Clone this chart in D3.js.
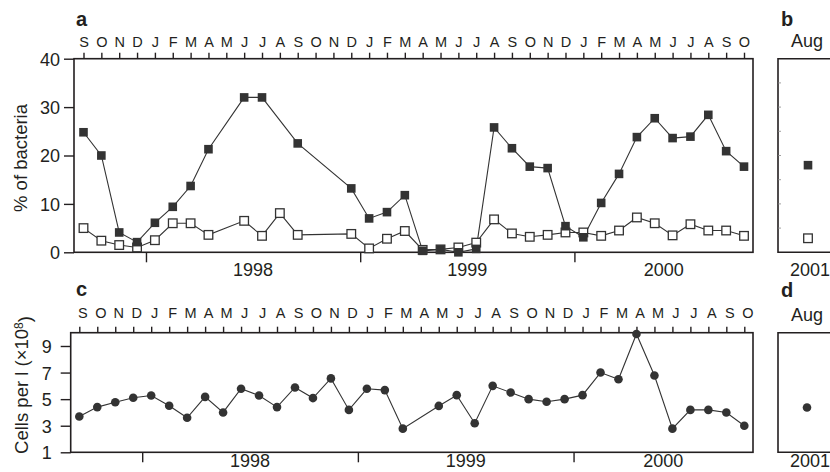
<!DOCTYPE html>
<meta charset="utf-8">
<head>
    <title>Bacteria time series</title>
    <script src="https://cdn.jsdelivr.net/npm/d3@7"></script>
</head>

<style>
    body { margin: 0; background: #fff; }
    svg { font-family: "Liberation Sans", Arial, sans-serif; }
    text { fill: #231f20; }
    .frame { fill: none; stroke: #231f20; stroke-width: 1.6; }
    .axis path { display: none; }
    .axis line { stroke: #231f20; stroke-width: 1.4; }
    .series { fill: none; stroke: #333; stroke-width: 1.1; }
</style>

<svg></svg>

<script>
    // Monthly samples, Sep 1997 .. Oct 2000 (null = no sample)
    var months = ["S","O","N","D","J","F","M","A","M","J","J","A",
                  "S","O","N","D","J","F","M","A","M","J","J","A",
                  "S","O","N","D","J","F","M","A","M","J","J","A","S","O"];
    var years = ["1998", "1999", "2000"];
    var yTicksA = [0, 10, 20, 30, 40];
    var yTicksC = [1, 3, 5, 7, 9];

    var filledPct = [24.8, 20.0, 4.1, 2.1, 6.1, 9.4, 13.7, 21.3, null, 32.0, 32.0, null,
                     22.5, null, null, 13.2, 7.0, 8.3, 11.8, 0.3, 0.6, 0.0, 0.7, 25.8,
                     21.5, 17.7, 17.4, 5.4, 3.1, 10.2, 16.2, 23.8, 27.7, 23.6, 23.9, 28.4, 20.9, 17.7];
    var openPct = [5.0, 2.4, 1.5, 1.0, 2.5, 6.0, 6.0, 3.6, null, 6.5, 3.4, 8.1,
                   3.6, null, null, 3.8, 0.8, 2.8, 4.4, 0.5, 0.6, 1.0, 2.0, 6.8,
                   3.9, 3.2, 3.6, 4.1, 4.1, 3.4, 4.5, 7.2, 6.0, 3.5, 5.8, 4.5, 4.5, 3.4];
    var cells = [3.69, 4.40, 4.77, 5.10, 5.27, 4.5, 3.6, 5.17, 4.0, 5.78, 5.27, 4.4,
                 5.88, 5.08, 6.56, 4.19, 5.78, 5.68, 2.78, null, 4.49, 5.30, 3.19, 6.0,
                 5.5, 5.0, 4.8, 5.0, 5.3, 7.0, 6.5, 9.9, 6.78, 2.78, 4.19, 4.19, 4.0, 3.0];

    // Aug 2001 samples (panels b and d)
    var aug2001Filled = [18.0];
    var aug2001Open = [2.9];
    var aug2001Cells = [4.37];

    var svg = d3.select('svg').attr('width', 830).attr('height', 472);

    function pts(arr) {
        return arr.map(function (v, i) { return {i: i, v: v}; })
                  .filter(function (d) { return d.v != null; });
    }

    // ---------- panel a ----------
    var xA = d3.scaleLinear().domain([0, 37]).range([83.5, 744]);
    var yA = d3.scaleLinear().domain([0, 40]).range([252.3, 58.7]);
    var boxA = {l: 74, r: 753, t: yA(40), b: yA(0)};

    // ---------- panel c ----------
    var xC = d3.scaleLinear().domain([0, 37]).range([79.3, 744.3]);
    var yC = d3.scaleLinear().domain([1, 10]).range([452.3, 332.7]);
    var boxC = {l: 70.7, r: 753, t: yC(10), b: yC(1)};

    function frame(box, x, yScale, yTicks, tickPad, monthPad) {
        svg.append('rect').attr('class', 'frame')
            .attr('x', box.l).attr('y', box.t)
            .attr('width', box.r - box.l).attr('height', box.b - box.t);

        // left value axis
        svg.append('g').attr('class', 'axis')
            .attr('transform', 'translate(' + box.l + ',0)')
            .call(d3.axisLeft(yScale).tickValues(yTicks).tickSize(10).tickPadding(tickPad))
            .selectAll('text').style('font-size', '18px').attr('dy', '0.36em');

        // month axis on top
        var top = svg.append('g').attr('class', 'axis')
            .attr('transform', 'translate(0,' + box.t + ')')
            .call(d3.axisTop(x).tickValues(d3.range(months.length))
                .tickFormat(function (i) { return months[i]; })
                .tickSize(6).tickPadding(monthPad));
        top.selectAll('text').style('font-size', '14.5px');
        return top;
    }

    function yearAxis(box, x, yearOff) {
        svg.append('g').attr('class', 'axis')
            .attr('transform', 'translate(0,' + box.b + ')')
            .call(d3.axisBottom(x).tickValues([3.5, 15.5, 27.5]).tickFormat('').tickSize(10));
        var endIdx = x.invert(box.r);
        var centers = [9.5, 21.5, (27.5 + endIdx) / 2];
        svg.selectAll(null).data(years).enter().append('text')
            .attr('x', function (d, i) { return x(centers[i]); })
            .attr('y', box.b + yearOff)
            .attr('text-anchor', 'middle')
            .style('font-size', '18px')
            .text(function (d) { return d; });
    }

    frame(boxA, xA, yA, yTicksA, 4, 6);
    yearAxis(boxA, xA, 23.5);
    var topC = frame(boxC, xC, yC, yTicksC, 9, 9);
    topC.selectAll('text').attr('dx', 3);
    yearAxis(boxC, xC, 14.5);

    // series a
    var lineA = d3.line().x(function (d) { return xA(d.i); }).y(function (d) { return yA(d.v); });
    svg.append('path').attr('class', 'series').attr('d', lineA(pts(openPct)));
    svg.append('path').attr('class', 'series').attr('d', lineA(pts(filledPct)));

    var s = 8.6;
    svg.selectAll(null).data(pts(openPct)).enter().append('rect')
        .attr('x', function (d) { return xA(d.i) - s / 2; })
        .attr('y', function (d) { return yA(d.v) - s / 2; })
        .attr('width', s).attr('height', s)
        .attr('fill', '#fff').attr('stroke', '#333').attr('stroke-width', 1.3);
    svg.selectAll(null).data(pts(filledPct)).enter().append('rect')
        .attr('x', function (d) { return xA(d.i) - s / 2; })
        .attr('y', function (d) { return yA(d.v) - s / 2; })
        .attr('width', s).attr('height', s)
        .attr('fill', '#333');

    // series c
    var lineC = d3.line().x(function (d) { return xC(d.i); }).y(function (d) { return yC(d.v); });
    svg.append('path').attr('class', 'series').attr('d', lineC(pts(cells)));
    svg.selectAll(null).data(pts(cells)).enter().append('circle')
        .attr('cx', function (d) { return xC(d.i); })
        .attr('cy', function (d) { return yC(d.v); })
        .attr('r', 4.3).attr('fill', '#333');

    // ---------- panels b and d ----------
    var xB = d3.scaleLinear().domain([0, 1]).range([778, 838]);

    function sidePanel(top, bottom, yearOff, withTicks, yScale) {
        svg.append('path').attr('class', 'frame')
            .attr('d', 'M' + 835 + ',' + top + 'H' + 778 + 'V' + bottom + 'H' + 835);
        if (withTicks) {
            svg.selectAll(null).data(d3.range(5, 40, 5)).enter().append('line')
                .attr('x1', 778).attr('x2', 781)
                .attr('y1', function (d) { return yScale(d); })
                .attr('y2', function (d) { return yScale(d); })
                .attr('stroke', '#888').attr('stroke-width', 0.8);
        }
        svg.append('text').attr('x', xB(0.5) - 1).attr('y', top - 12)
            .attr('text-anchor', 'middle').style('font-size', '18px').text('Aug');
        svg.append('text').attr('x', xB(0.5) + 2).attr('y', bottom + yearOff)
            .attr('text-anchor', 'middle').style('font-size', '18px').text('2001');
    }

    sidePanel(boxA.t, boxA.b, 23.5, true, yA);
    sidePanel(boxC.t, boxC.b, 14.5, false, yC);

    svg.selectAll(null).data(aug2001Open).enter().append('rect')
        .attr('x', xB(0.5) - s / 2).attr('y', function (d) { return yA(d) - s / 2; })
        .attr('width', s).attr('height', s)
        .attr('fill', '#fff').attr('stroke', '#333').attr('stroke-width', 1.3);
    svg.selectAll(null).data(aug2001Filled).enter().append('rect')
        .attr('x', xB(0.5) - s / 2).attr('y', function (d) { return yA(d) - s / 2; })
        .attr('width', s).attr('height', s).attr('fill', '#333');
    svg.selectAll(null).data(aug2001Cells).enter().append('circle')
        .attr('cx', xB(0.5) - 1).attr('cy', function (d) { return yC(d); })
        .attr('r', 4.3).attr('fill', '#333');

    // ---------- panel letters and titles ----------
    var letters = [['a', 76, 26], ['b', 781, 26], ['c', 76, 296], ['d', 781, 297]];
    svg.selectAll(null).data(letters).enter().append('text')
        .attr('x', function (d) { return d[1]; }).attr('y', function (d) { return d[2]; })
        .style('font-size', '20px').style('font-weight', 'bold')
        .text(function (d) { return d[0]; });

    svg.append('text')
        .attr('transform', 'translate(27,158) rotate(-90)')
        .attr('text-anchor', 'middle').style('font-size', '18.5px')
        .text('% of bacteria');

    var tc = svg.append('text')
        .attr('transform', 'translate(28,385) rotate(-90)')
        .attr('text-anchor', 'middle').style('font-size', '18.5px');
    tc.append('tspan').text('Cells per l (\u00d710');
    tc.append('tspan').attr('dy', '-0.45em').style('font-size', '12px').text('8');
    tc.append('tspan').attr('dy', '0.45em').text(')');
</script>
